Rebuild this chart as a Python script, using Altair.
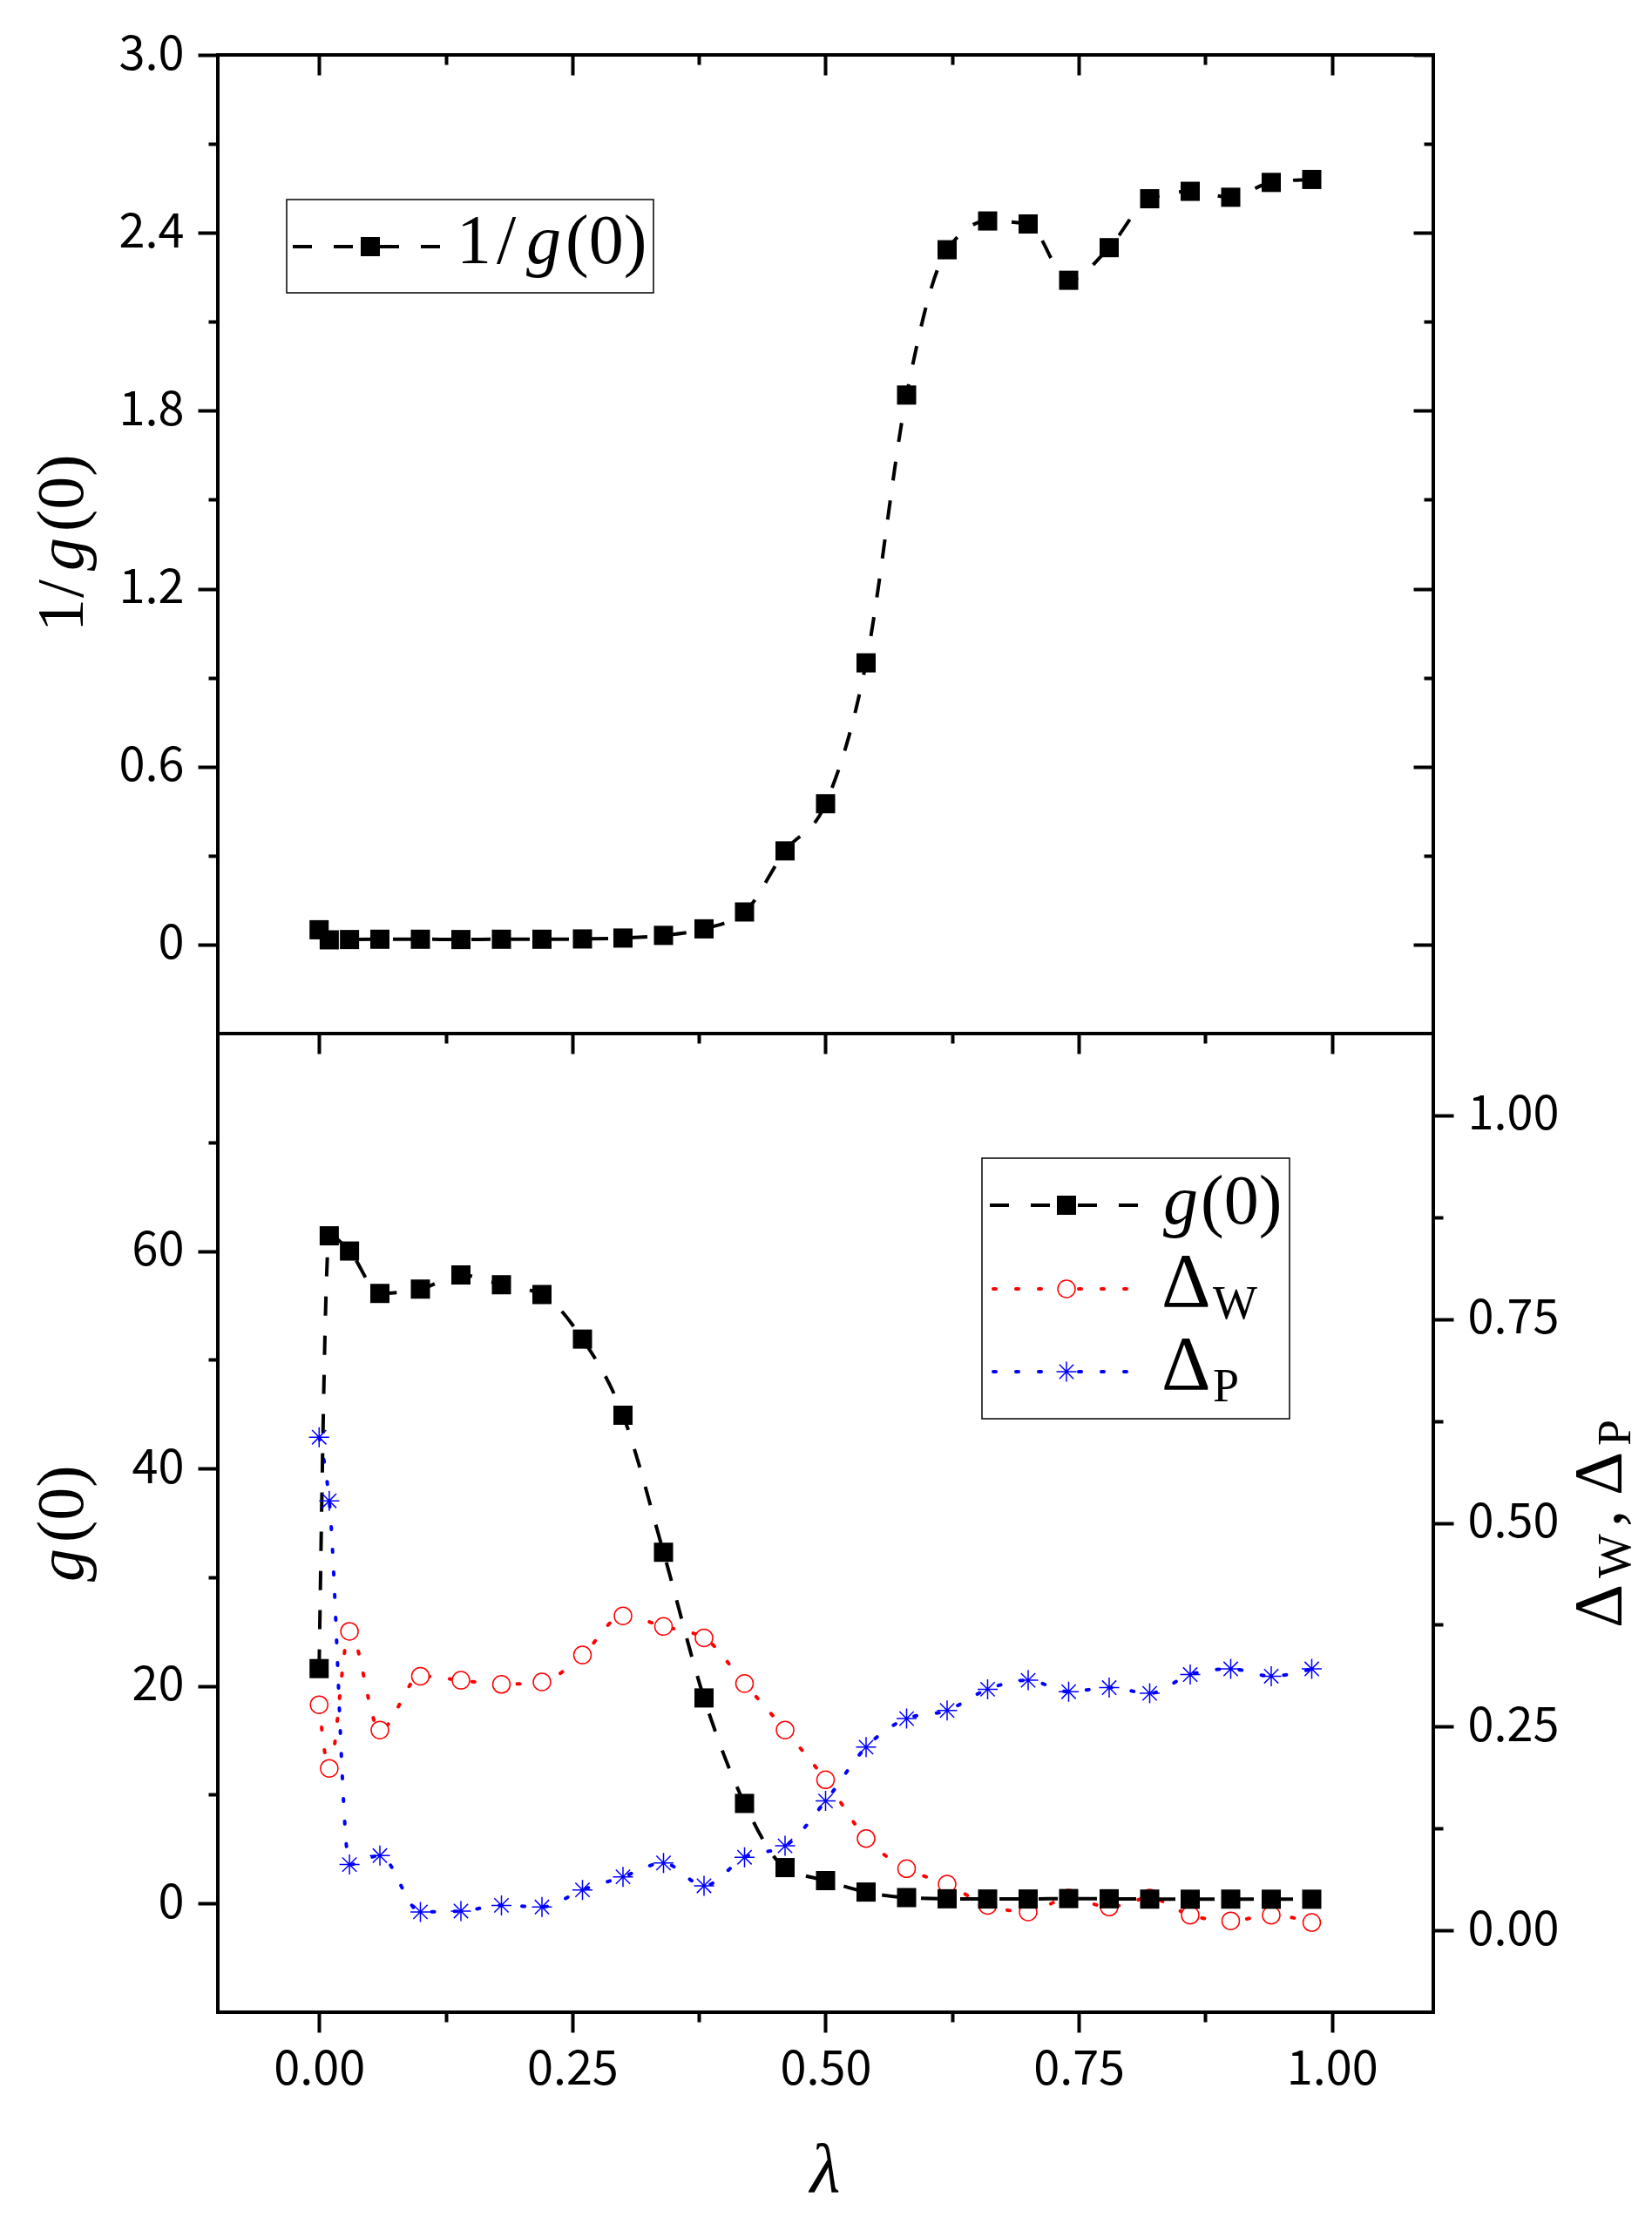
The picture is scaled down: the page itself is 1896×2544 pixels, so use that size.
import altair as alt
import pandas as pd

# values
lam = [0.00, 0.01, 0.03, 0.06, 0.10, 0.14, 0.18, 0.22, 0.26, 0.30, 0.34, 0.38, 0.42, 0.46,
       0.50, 0.54, 0.58, 0.62, 0.66, 0.70, 0.74, 0.78, 0.82, 0.86, 0.90, 0.94, 0.98]
inv_g0 = [0.050, 0.016, 0.017, 0.018, 0.018, 0.017, 0.018, 0.018, 0.019, 0.022, 0.031, 0.053, 0.110, 0.316,
          0.475, 0.950, 1.853, 2.343, 2.440, 2.430, 2.240, 2.350, 2.515, 2.540, 2.520, 2.570, 2.580]
g0 = [21.6, 61.4, 60.0, 56.1, 56.5, 57.8, 56.9, 56.0, 51.9, 44.9, 32.3, 18.9, 9.2, 3.3,
      2.1, 1.05, 0.54, 0.43, 0.41, 0.41, 0.45, 0.43, 0.40, 0.39, 0.40, 0.39, 0.39]
delta_w = [0.277, 0.199, 0.367, 0.246, 0.312, 0.307, 0.302, 0.305, 0.338, 0.386, 0.373, 0.359, 0.303, 0.246,
           0.185, 0.113, 0.076, 0.057, 0.031, 0.023, 0.040, 0.029, 0.040, 0.019, 0.012, 0.019, 0.010]
delta_p = [0.605, 0.527, 0.081, 0.092, 0.023, 0.024, 0.031, 0.029, 0.050, 0.066, 0.083, 0.055, 0.090, 0.104,
           0.159, 0.225, 0.260, 0.270, 0.296, 0.307, 0.293, 0.298, 0.291, 0.314, 0.321, 0.312, 0.321]

# tick positions
x_major = [0, 0.25, 0.5, 0.75, 1.0]
x_minor = [0.125, 0.375, 0.625, 0.875]
top_major = [0, 0.6, 1.2, 1.8, 2.4, 3.0]
top_minor = [0.3, 0.9, 1.5, 2.1, 2.7]
g_major = [0, 20, 40, 60]
g_minor = [10, 30, 50, 70]
d_major = [0, 0.25, 0.5, 0.75, 1.0]
d_minor = [0.125, 0.375, 0.625, 0.875]

df = pd.DataFrame({"lam": lam, "inv": inv_g0, "g": g0, "dw": delta_w, "dp": delta_p})
one = pd.DataFrame({"k": [0]})

W, H = 1395, 1123
NUM_FONT = "Noto Sans CJK SC"
SERIF = "Liberation Serif"
ASTERISK = "M0,-1L0,1M-1,0L1,0M-0.71,-0.71L0.71,0.71M-0.71,0.71L0.71,-0.71"


def xs():
    return alt.Scale(domain=[-0.1, 1.1], nice=False, zero=False)


def ys(dom):
    return alt.Scale(domain=dom, nice=False, zero=False)


def ax(values, size, orient, offset=0, fmt=None, expr=None):
    show = fmt is not None or expr is not None
    kw = dict(values=values, orient=orient, offset=offset, tickSize=size, tickWidth=4,
              tickColor="black", domain=False, grid=False, title=None, labels=show)
    if fmt:
        kw["format"] = fmt
    if expr:
        kw["labelExpr"] = expr
    if show:
        kw.update(labelFont=NUM_FONT, labelFontSize=54, labelColor="black", labelPadding=16)
    return alt.Axis(**kw)


def tick_layer(field, dom, x_axis, y_axis):
    return alt.Chart(df).mark_point(opacity=0).encode(
        x=alt.X("lam:Q", scale=xs(), axis=x_axis),
        y=alt.Y(f"{field}:Q", scale=ys(dom), axis=y_axis),
    )


def txt(s, x, y, size, italic=False, angle=0, align="left"):
    kw = dict(text=s, font=SERIF, fontSize=size, align=align, baseline="alphabetic", color="black")
    if italic:
        kw["fontStyle"] = "italic"
    if angle:
        kw["angle"] = angle
    return alt.Chart(one).mark_text(**kw).encode(x=alt.value(x), y=alt.value(y))


def seg(x1, x2, y, color, dotted=False):
    if dotted:
        m = alt.Chart(one).mark_rule(color=color, strokeWidth=4, strokeDash=[3, 23], strokeCap="round")
    else:
        m = alt.Chart(one).mark_rule(color=color, strokeWidth=4, strokeDash=[22, 25])
    return m.encode(x=alt.value(x1), x2=alt.value(x2), y=alt.value(y))


def box(x1, x2, y1, y2):
    return alt.Chart(one).mark_rect(fill="white", stroke="black", strokeWidth=1.5).encode(
        x=alt.value(x1), x2=alt.value(x2), y=alt.value(y1), y2=alt.value(y2))


def marker(x, y, **kw):
    return alt.Chart(one).mark_point(opacity=1, **kw).encode(x=alt.value(x), y=alt.value(y))


SQUARE = dict(shape="square", filled=True, size=484, color="black")
CIRCLE = dict(shape="circle", filled=True, size=400, fill="white", stroke="red", strokeWidth=1.5)
STAR = dict(shape=ASTERISK, filled=False, size=529, color="blue", strokeWidth=1.5)

# ---------------- top panel: 1/g(0) ----------------
TOP = [-0.3, 3.0]
top_line = alt.Chart(df).mark_line(color="black", strokeWidth=4, strokeDash=[22, 23], interpolate="monotone").encode(
    x=alt.X("lam:Q", scale=xs(), axis=ax(x_major, 23, "bottom")),
    y=alt.Y("inv:Q", scale=ys(TOP),
            axis=ax(top_major, 23, "left", expr="datum.value == 0 ? '0' : format(datum.value, '.1f')")),
)
top_pts = alt.Chart(df).mark_point(opacity=1, **SQUARE).encode(
    x=alt.X("lam:Q", scale=xs(), axis=None),
    y=alt.Y("inv:Q", scale=ys(TOP), axis=None),
)

top = alt.layer(
    top_line,
    top_pts,
    tick_layer("inv", TOP, ax(x_minor, 11, "bottom"), ax(top_minor, 11, "left")),
    tick_layer("inv", TOP, ax(x_major, 23, "bottom", offset=-H), ax(top_major, 23, "left", offset=-W)),
    tick_layer("inv", TOP, ax(x_minor, 11, "bottom", offset=-H), ax(top_minor, 11, "left", offset=-W)),
    # legend
    box(79, 500, 166, 273),
    seg(86, 175, 220, "black"),
    seg(255, 175, 220, "black"),
    marker(175, 220, **SQUARE),
    txt("1", 274, 239, 80),
    txt("/", 320, 239, 80),
    txt("g", 354, 239, 80, italic=True),
    txt("(0)", 399, 239, 80),
    # y title 1/g(0)
    txt("1", -155, 662, 76, angle=270),
    txt("/", -155, 623, 76, angle=270),
    txt("g", -155, 592, 76, italic=True, angle=270),
    txt("(0)", -155, 547, 76, angle=270),
    # fixes the page offset of the plot area
    alt.Chart(one).mark_rule(color="white", strokeWidth=1).encode(
        x=alt.value(-239), x2=alt.value(-238), y=alt.value(-52)),
).properties(width=W, height=H).resolve_scale(x="independent", y="independent")

# ---------------- bottom panel: g(0), Delta_W, Delta_P ----------------
GD = [-10, 80]
DD = [-0.1, 1.1]
dw_line = alt.Chart(df).mark_line(color="red", strokeWidth=4, strokeDash=[3, 23], strokeCap="round",
                                  interpolate="monotone").encode(
    x=alt.X("lam:Q", scale=xs(), axis=None),
    y=alt.Y("dw:Q", scale=ys(DD), axis=ax(d_major, 23, "right", fmt=".2f")),
)
dw_pts = alt.Chart(df).mark_point(opacity=1, **CIRCLE).encode(
    x=alt.X("lam:Q", scale=xs(), axis=None),
    y=alt.Y("dw:Q", scale=ys(DD), axis=None),
)
dp_line = alt.Chart(df).mark_line(color="blue", strokeWidth=4, strokeDash=[3, 23], strokeCap="round",
                                  interpolate="monotone").encode(
    x=alt.X("lam:Q", scale=xs(), axis=None),
    y=alt.Y("dp:Q", scale=ys(DD), axis=None),
)
dp_pts = alt.Chart(df).mark_point(opacity=1, **STAR).encode(
    x=alt.X("lam:Q", scale=xs(), axis=None),
    y=alt.Y("dp:Q", scale=ys(DD), axis=None),
)
g_line = alt.Chart(df).mark_line(color="black", strokeWidth=4, strokeDash=[22, 23], interpolate="monotone").encode(
    x=alt.X("lam:Q", scale=xs(), axis=ax(x_major, 23, "bottom", fmt=".2f")),
    y=alt.Y("g:Q", scale=ys(GD), axis=ax(g_major, 23, "left", fmt="d")),
)
g_pts = alt.Chart(df).mark_point(opacity=1, **SQUARE).encode(
    x=alt.X("lam:Q", scale=xs(), axis=None),
    y=alt.Y("g:Q", scale=ys(GD), axis=None),
)

bottom = alt.layer(
    dw_line, dp_line, g_line, dw_pts, dp_pts, g_pts,
    tick_layer("g", GD, ax(x_minor, 11, "bottom"), ax(g_minor, 11, "left")),
    tick_layer("dw", DD, None, ax(d_minor, 11, "right")),
    # legend
    box(877, 1230, 143, 442),
    seg(886, 974, 197, "black"),
    seg(1056, 974, 197, "black"),
    marker(974, 197, **SQUARE),
    seg(890, 960, 293, "red", dotted=True),
    seg(1043, 985, 293, "red", dotted=True),
    marker(974, 293, **CIRCLE),
    seg(890, 960, 388, "blue", dotted=True),
    seg(1043, 985, 388, "blue", dotted=True),
    marker(974, 388, **STAR),
    txt("g", 1085, 218, 80, italic=True),
    txt("(0)", 1128, 218, 80),
    txt("Δ", 1083, 313, 88),
    txt("W", 1142, 327, 54),
    txt("Δ", 1083, 408, 88),
    txt("P", 1142, 422, 54),
    # axis titles
    txt("λ", 697, 1329, 80, italic=True, align="center"),
    txt("g", -155, 629, 76, italic=True, angle=270),
    txt("(0)", -155, 584, 76, angle=270),
    txt("Δ", 1610, 682, 78, angle=270),
    txt("W", 1621, 625, 54, angle=270),
    txt(",", 1610, 566, 78, angle=270),
    txt("Δ", 1610, 530, 78, angle=270),
    txt("P", 1621, 473, 54, angle=270),
).properties(width=W, height=H).resolve_scale(x="independent", y="independent")

chart = alt.vconcat(top, bottom, spacing=0, bounds="flush").properties(padding=0).configure_view(
    stroke="black", strokeWidth=4
)

chart.save("out.html", embed_options={"renderer": "svg", "actions": False})
